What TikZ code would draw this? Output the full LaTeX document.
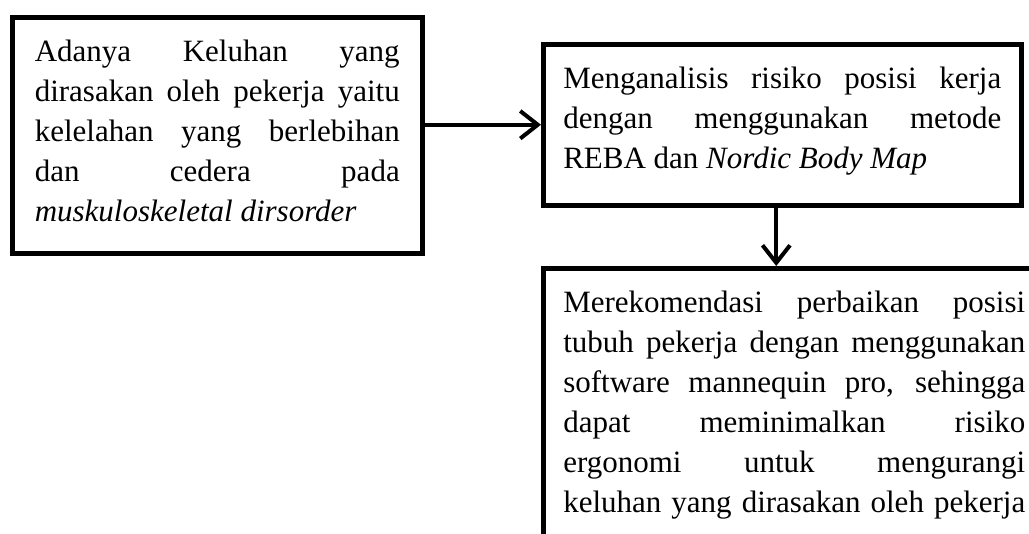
\documentclass[tikz,border=0pt]{standalone}
\usepackage{fontspec}
\setmainfont{Liberation Serif}
\usetikzlibrary{arrows.meta}
\tikzset{
  kotak/.style={
    draw=black,
    line width=1.8pt,
    fill=white,
    anchor=north west,
    align=justify,
    inner xsep=8pt,
    inner ysep=0pt,
    text height=17.6pt,
    font=\fontsize{12.4}{16}\selectfont
  },
  panah/.style={
    -{Straight Barb[length=7pt,width=11pt]},
    line width=1.6pt
  }
}

\begin{document}
\begin{tikzpicture}[x=0.4pt,y=-0.4pt]
\useasboundingbox (0,0) rectangle (1029,534);
\clip (0,0) rectangle (1029,534);
\node[kotak,inner xsep=9pt,text width=146pt,text depth=76.8pt] (a) at (10,15) {Adanya Keluhan yang\linebreak dirasakan oleh pekerja yaitu\linebreak kelelahan yang berlebihan\linebreak dan cedera pada\linebreak \textit{muskuloskeletal dirsorder}};
\node[kotak,text width=175.2pt,text depth=46.8pt] (b) at (541,42) {Menganalisis risiko posisi kerja\linebreak dengan menggunakan metode\linebreak REBA dan \textit{Nordic Body Map}};
\node[kotak,text width=184.8pt,text depth=92.8pt] (c) at (541,266) {Merekomendasi perbaikan posisi\linebreak tubuh pekerja dengan menggunakan\linebreak software mannequin pro, sehingga\linebreak dapat meminimalkan risiko\linebreak ergonomi untuk mengurangi\linebreak keluhan yang dirasakan oleh pekerja\linebreak};
\draw[panah] (a.east |- b.west) -- (b.west);
\draw[panah] ([xshift=-2.4pt]b.south) -- ([xshift=-2.4pt]b.south |- c.north);
\end{tikzpicture}
\end{document}
